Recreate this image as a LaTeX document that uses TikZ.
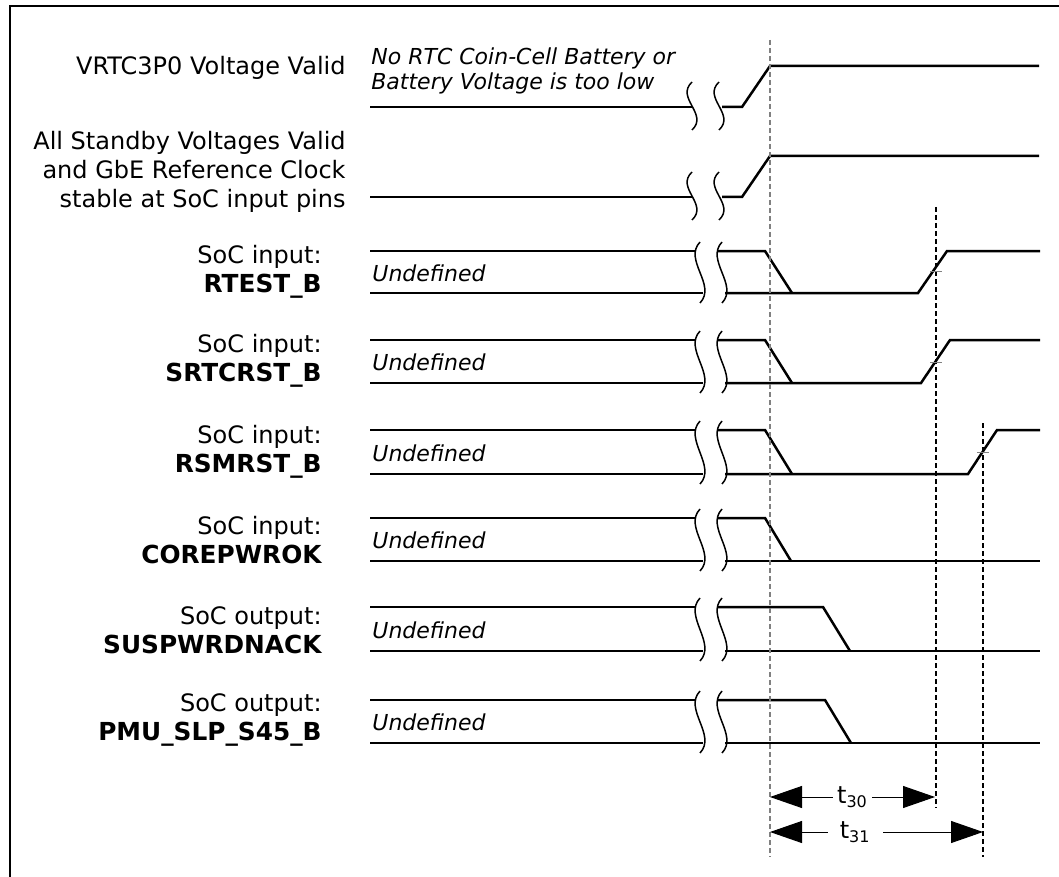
\documentclass[tikz,border=0pt]{standalone}
\usepackage{fontspec}
\setmainfont{DejaVu Sans}
\usetikzlibrary{arrows.meta}

\begin{document}
\begin{tikzpicture}[x=0.5pt, y=-0.5pt,
    every node/.style={inner sep=0pt, font=\fontsize{12}{14.5}\selectfont},
    sig/.style={line width=1.25pt},
    brk/.style={line width=0.75pt},
    guide/.style={dash pattern=on 2.5pt off 1.5pt, line width=0.6pt},
    crossmark/.style={gray, line width=0.5pt},
    signame/.style={anchor=east, align=right},
    signote/.style={anchor=west, align=left, font=\fontsize{11}{12.5}\selectfont\itshape},
    spanarrow/.style={{Triangle[length=16pt,width=11pt]}-{Triangle[length=16pt,width=11pt]}, line width=0.5pt},
    spanlbl/.style={fill=white, inner xsep=2pt}]
  \useasboundingbox (0,0) rectangle (1059,877);
  \draw[line width=1pt] (10,877) -- (10,6) -- (1059,6);

  % signal names
  \node[signame] (vrtc) at (346,68) {VRTC3P0 Voltage Valid};
  \node[signame] (stby) at (346,172) {All Standby Voltages Valid\\and GbE Reference Clock\\stable at SoC input pins};
  \foreach \n/\y/\dir/\pin in {rtest/272/input/RTEST\_B, srtc/361/input/SRTCRST\_B,
      rsmrst/452/input/RSMRST\_B, corepwr/540/input/COREPWROK,
      suspwr/630/output/SUSPWRDNACK, slps45/720/output/PMU\_SLP\_S45\_B}
    \node[signame] (\n) at (322,\y) {SoC \dir:\\{\fontsize{12.4}{14.5}\selectfont\bfseries\pin}};

  \node[signote] (nobat) at (371,71) {No RTC Coin-Cell Battery or\\Battery Voltage is too low};
  \foreach \n/\y in {u3/273, u4/362, u5/453, u6/540, u7/630, u8/722}
    \node[signote] (\n) at (372,\y) {Undefined};

  % before the break
  \foreach \y in {107,197} {
    \draw[sig] (370,\y) -- (693,\y);
    \foreach \x in {692,719}
      \draw[brk] (\x,{\y-25}) .. controls ({\x-17},{\y-9}) and ({\x+17},{\y+7}) .. (\x,{\y+23});
  }
  \foreach \t/\b in {251/293, 340/383, 430/474, 518/561, 607/651, 700/743} {
    \draw[sig] (370,\t) -- (696,\t) (370,\b) -- (703,\b);
    \foreach \x in {700,722}
      \draw[brk] (\x,{\t-9}) .. controls ({\x-17},{\t+9}) and ({\x+17},{\b-8}) .. (\x,{\b+10});
  }

  % after the break
  \draw[sig] (722,107) -- (742,107) -- (770,66) -- (1039,66);
  \draw[sig] (722,197) -- (742,197) -- (770,156) -- (1039,156);
  \draw[sig] (718,251) -- (765,251) -- (792,293);
  \draw[sig] (725,293) -- (918,293) -- (947,251) -- (1040,251);
  \draw[sig] (718,340) -- (765,340) -- (792,383);
  \draw[sig] (725,383) -- (921,383) -- (950,340) -- (1040,340);
  \draw[sig] (718,430) -- (765,430) -- (792,474);
  \draw[sig] (725,474) -- (968,474) -- (997,430) -- (1040,430);
  \draw[sig] (718,518) -- (765,518) -- (791,561);
  \draw[sig] (725,561) -- (1040,561);
  \draw[sig] (718,607) -- (823,607) -- (850,651);
  \draw[sig] (725,651) -- (1040,651);
  \draw[sig] (718,700) -- (825,700) -- (851,743);
  \draw[sig] (725,743) -- (1040,743);

  % timing references
  \draw[guide, gray] (770,40) -- (770,857);
  \draw[guide] (936,207) -- (936,808);
  \draw[guide] (983,423) -- (983,857);
  \foreach \x/\y in {936/271, 936/362, 983/452}
    \draw[crossmark] (\x-6,\y) -- (\x+6,\y);

  \coordinate (t30a) at (770,797);
  \coordinate (t30b) at (935,797);
  \coordinate (t31a) at (770,832);
  \coordinate (t31b) at (983,832);
  \draw[spanarrow] (t30a) -- node[spanlbl] {t\textsubscript{30}} (t30b);
  \draw[spanarrow] (t31a) -- node[spanlbl, pos=0.4, inner xsep=6pt] {t\textsubscript{31}} (t31b);
\end{tikzpicture}
\end{document}
